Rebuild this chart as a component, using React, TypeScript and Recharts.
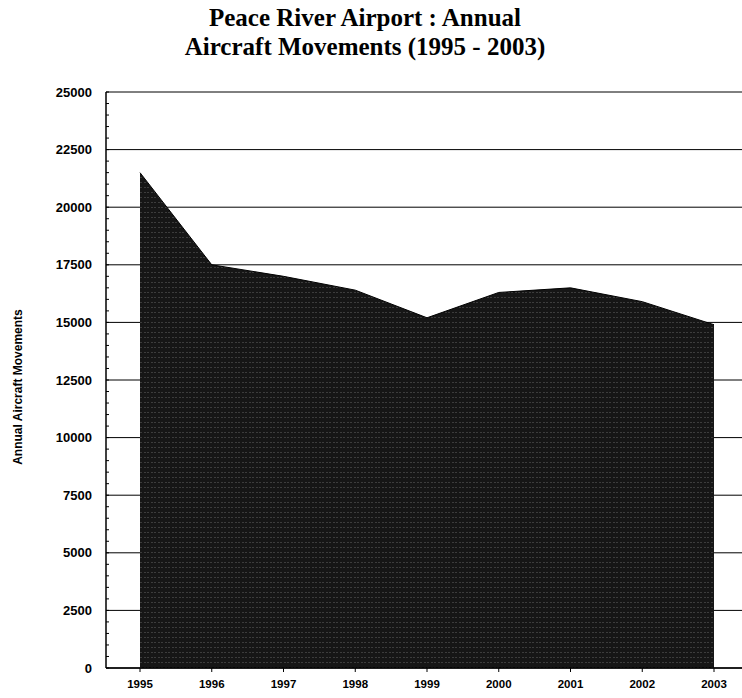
import React from 'react';
import { ComposedChart, Area, XAxis, YAxis, CartesianGrid, ReferenceLine } from 'recharts';

const years = [1995, 1996, 1997, 1998, 1999, 2000, 2001, 2002, 2003];
const movements = [21500, 17500, 17000, 16400, 15200, 16300, 16500, 15900, 14900];
const yTicks = [0, 2500, 5000, 7500, 10000, 12500, 15000, 17500, 20000, 22500, 25000];
const minorTicks = Array.from({ length: 51 }, (_, i) => i * 500);

const data = years.map((y, i) => ({ year: y, value: movements[i] }));

const AXIS_X = 106;

const MinorTick = (p: any) => (
  <line x1={AXIS_X} x2={AXIS_X + 3} y1={p.y1} y2={p.y1} stroke="#000" strokeWidth={1} />
);

export default function App() {
  return (
    <div style={{ position: 'absolute', left: 0, top: 0, width: 742, height: 698, background: '#fff' }}>
      <div
        style={{
          position: 'absolute',
          left: 0,
          top: 3,
          width: 730,
          textAlign: 'center',
          fontFamily: '"Liberation Serif", "Times New Roman", serif',
          fontWeight: 'bold',
          fontSize: 25,
          lineHeight: '29px',
          color: '#000',
        }}
      >
        Peace River Airport : Annual
        <br />
        Aircraft Movements (1995 - 2003)
      </div>
      <div
        style={{
          position: 'absolute',
          left: 18,
          top: 387,
          transform: 'translate(-50%, -50%) rotate(-90deg)',
          whiteSpace: 'nowrap',
          fontFamily: '"Liberation Sans", Arial, sans-serif',
          fontWeight: 'bold',
          fontSize: 12,
          color: '#000',
        }}
      >
        Annual Aircraft Movements
      </div>
      <ComposedChart
        width={742}
        height={698}
        data={data}
        margin={{ top: 92, right: 0, bottom: 0, left: 46 }}
        style={{ position: 'absolute', left: 0, top: 0 }}
      >
        <defs>
          <pattern id="scanFill" width="7" height="5" patternUnits="userSpaceOnUse">
            <rect width="7" height="5" fill="#161616" />
            <line x1="0" y1="2.5" x2="7" y2="2.5" stroke="#3c3c3c" strokeWidth="1" strokeDasharray="2 2" />
          </pattern>
        </defs>
        <CartesianGrid horizontal vertical={false} stroke="#000" strokeWidth={1} />
        <XAxis
          dataKey="year"
          type="number"
          domain={[1995, 2003]}
          ticks={years}
          padding={{ left: 34, right: 28 }}
          height={30}
          axisLine={{ stroke: '#000', strokeWidth: 1.5 }}
          tickLine={{ stroke: '#000' }}
          tickSize={4}
          tickMargin={8}
          tick={{ fill: '#000', fontSize: 11.5, fontWeight: 'bold', fontFamily: '"Liberation Sans", Arial, sans-serif' }}
          interval={0}
        />
        <YAxis
          domain={[0, 25000]}
          ticks={yTicks}
          width={60}
          axisLine={{ stroke: '#000', strokeWidth: 1.5 }}
          tickLine={false}
          tickSize={0}
          tickMargin={14}
          interval={0}
          tick={{ fill: '#000', fontSize: 13, fontWeight: 'bold', fontFamily: '"Liberation Sans", Arial, sans-serif' }}
        />
        {minorTicks.map((v) => (
          <ReferenceLine key={v} y={v} shape={MinorTick} />
        ))}
        <Area
          type="linear"
          dataKey="value"
          stroke="#000"
          strokeWidth={1}
          fill="url(#scanFill)"
          fillOpacity={1}
          isAnimationActive={false}
          dot={false}
          activeDot={false}
        />
      </ComposedChart>
    </div>
  );
}
